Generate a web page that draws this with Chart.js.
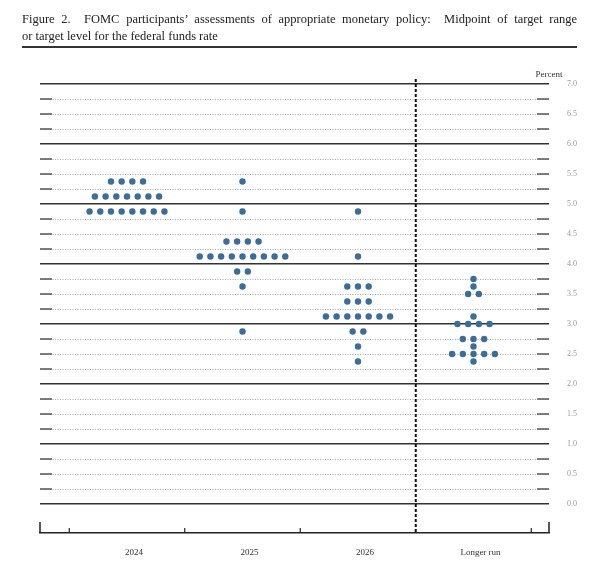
<!DOCTYPE html>
<html>
<head>
<meta charset="utf-8">
<title>FOMC dot plot</title>
<script src="https://cdn.jsdelivr.net/npm/chart.js@4.4.1/dist/chart.umd.min.js"></script>
<style>
  body { margin: 0; background: #fff; }
  #wrap { position: relative; width: 600px; height: 575px; }
  #title {
    position: absolute; left: 22px; top: 11px; width: 555px;
    font-family: 'Liberation Serif', serif; font-size: 12.5px; line-height: 17px;
    color: #222; border-bottom: 2px solid #333; padding-bottom: 1px;
  }
  #title .l1 { text-align: justify; text-align-last: justify; white-space: nowrap; }
  canvas { position: absolute; left: 0; top: 0; }
</style>
</head>
<body>
<div id="wrap">
  <canvas id="dotChart" width="600" height="575"></canvas>
  <div id="title">
    <div class="l1">Figure 2.&nbsp; FOMC participants’ assessments of appropriate monetary policy:&nbsp; Midpoint of target range</div>
    <div>or target level for the federal funds rate</div>
  </div>
</div>
<script>
// Column labels
const categories = ['2024', '2025', '2026', 'Longer run'];

// Midpoint levels and number of participants at each level
const rates2024 = [5.375, 5.125, 4.875];
const counts2024 = [4, 7, 8];
const rates2025 = [5.375, 4.875, 4.375, 4.125, 3.875, 3.625, 2.875];
const counts2025 = [1, 1, 4, 9, 2, 1, 1];
const rates2026 = [4.875, 4.125, 3.625, 3.375, 3.125, 2.875, 2.625, 2.375];
const counts2026 = [1, 1, 3, 3, 7, 2, 1, 1];
const ratesLonger = [3.75, 3.625, 3.5, 3.125, 3.0, 2.75, 2.625, 2.5, 2.375];
const countsLonger = [1, 1, 2, 1, 4, 3, 1, 5, 1];

// Percent axis lines
const percentTicks = [0, 0.25, 0.5, 0.75, 1, 1.25, 1.5, 1.75, 2, 2.25, 2.5, 2.75,
  3, 3.25, 3.5, 3.75, 4, 4.25, 4.5, 4.75, 5, 5.25, 5.5, 5.75, 6, 6.25, 6.5, 6.75, 7];

const dotGap = 0.0926; // horizontal spacing of dots within a row, in column units

function buildDots(col, rates, counts) {
  const pts = [];
  rates.forEach((r, k) => {
    const n = counts[k];
    for (let i = 0; i < n; i++) {
      pts.push({ x: col + (i - (n - 1) / 2) * dotGap, y: r });
    }
  });
  return pts;
}

const dots = [].concat(
  buildDots(0, rates2024, counts2024),
  buildDots(1, rates2025, counts2025),
  buildDots(2, rates2026, counts2026),
  buildDots(3, ratesLonger, countsLonger)
);

const isWhole = (v) => Math.abs(v - Math.round(v)) < 1e-9;

// extra bits of the figure: end marks on grid lines, bottom bracket, separator, unit label
const furniture = {
  id: 'furniture',
  beforeDatasetsDraw(chart) {
    const { ctx, chartArea: a, scales: { y } } = chart;
    ctx.save();
    ctx.strokeStyle = '#555';
    ctx.lineWidth = 1.5;
    percentTicks.forEach((v) => {
      if (isWhole(v)) return;
      const py = y.getPixelForValue(v);
      ctx.beginPath();
      ctx.moveTo(a.left, py); ctx.lineTo(a.left + 12, py);
      ctx.moveTo(a.right - 12, py); ctx.lineTo(a.right, py);
      ctx.stroke();
    });
    ctx.restore();
  },
  afterDraw(chart) {
    const { ctx, chartArea: a, scales: { x } } = chart;
    ctx.save();
    ctx.strokeStyle = '#222';
    ctx.lineWidth = 1.5;
    // end brackets
    ctx.beginPath();
    ctx.moveTo(a.left, a.bottom); ctx.lineTo(a.left, a.bottom - 11);
    ctx.moveTo(a.right, a.bottom); ctx.lineTo(a.right, a.bottom - 11);
    ctx.stroke();
    // column separators
    ctx.lineWidth = 1.2;
    [-0.5, 0.5, 1.5, 3.5].forEach((v) => {
      const px = x.getPixelForValue(v);
      ctx.beginPath();
      ctx.moveTo(px, a.bottom); ctx.lineTo(px, a.bottom - 5);
      ctx.stroke();
    });
    // dashed divider before longer run
    const dx = x.getPixelForValue(2.5);
    ctx.strokeStyle = '#111';
    ctx.lineWidth = 2;
    ctx.setLineDash([3, 2]);
    ctx.beginPath();
    ctx.moveTo(dx, a.top - 5); ctx.lineTo(dx, a.bottom);
    ctx.stroke();
    ctx.setLineDash([]);
    // unit label
    ctx.fillStyle = '#333';
    ctx.font = '9px "Liberation Serif"';
    ctx.textAlign = 'center';
    ctx.textBaseline = 'middle';
    ctx.fillText('Percent', a.right, a.top - 9);
    ctx.restore();
  }
};

document.addEventListener('DOMContentLoaded', function () {
  Chart.defaults.font.family = '"Liberation Serif", serif';
  const ctx = document.getElementById('dotChart').getContext('2d');
  new Chart(ctx, {
    type: 'scatter',
    data: {
      datasets: [{
        data: dots,
        backgroundColor: '#3b6d98',
        borderWidth: 0,
        pointRadius: 3.2,
        pointHoverRadius: 3.2
      }]
    },
    options: {
      responsive: false,
      animation: false,
      layout: { padding: { top: 84, left: 40, right: 0, bottom: 0 } },
      plugins: { legend: { display: false }, tooltip: { enabled: false } },
      scales: {
        x: {
          type: 'linear',
          min: -0.7532,
          max: 3.6537,
          afterBuildTicks: (s) => { s.ticks = categories.map((_, i) => ({ value: i })); },
          afterFit: (s) => { s.height = 42; },
          ticks: {
            autoSkip: false,
            maxRotation: 0,
            padding: 14,
            labelOffset: 7,
            color: '#333',
            font: { size: 9 },
            callback: (v) => categories[v]
          },
          grid: { display: false, drawTicks: false },
          border: { display: true, color: '#222', width: 1.5 }
        },
        y: {
          type: 'linear',
          position: 'right',
          min: -0.4833,
          max: 7,
          afterBuildTicks: (s) => { s.ticks = percentTicks.map((v) => ({ value: v })); },
          afterFit: (s) => { s.width = 51; },
          ticks: {
            autoSkip: false,
            padding: 18,
            color: '#999',
            font: { size: 8 },
            callback: (v) => (isWhole(v * 2) ? v.toFixed(1) : '')
          },
          grid: {
            drawTicks: false,
            color: (c) => (isWhole(c.tick.value) ? '#333' : '#aaa'),
            lineWidth: (c) => (isWhole(c.tick.value) ? 1.5 : 1)
          },
          border: {
            display: false,
            dash: (c) => (c.tick && !isWhole(c.tick.value) ? [1, 1.5] : [])
          }
        }
      }
    },
    plugins: [furniture]
  });
});
</script>
</body>
</html>
